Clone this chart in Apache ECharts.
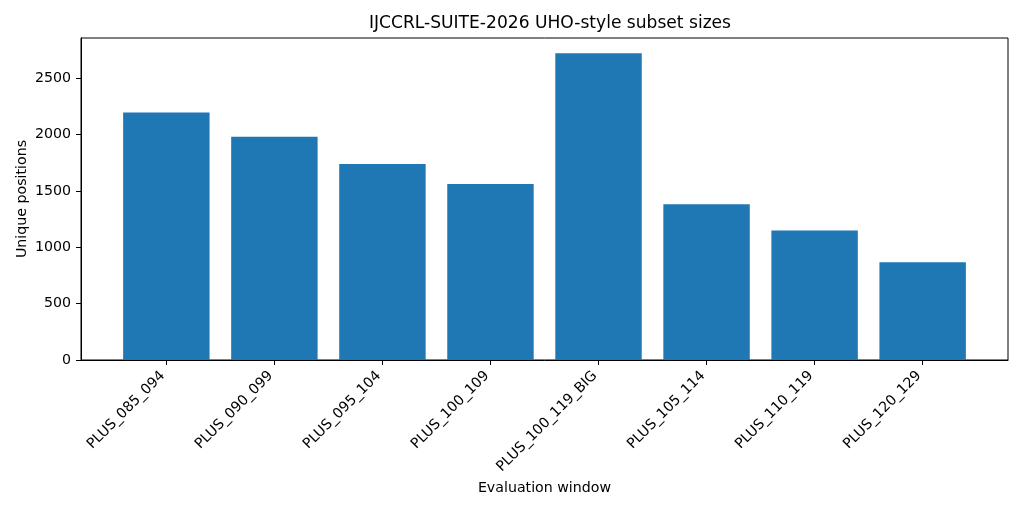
<!DOCTYPE html>
<html><head><meta charset="utf-8">
<script src="https://cdn.jsdelivr.net/npm/echarts@6/dist/echarts.min.js"></script>
<style>html,body{margin:0;padding:0;background:#fff}#c{width:1024px;height:512px}</style>
</head><body><div id="c"></div>
<script>
const categories = ['PLUS_085_094','PLUS_090_099','PLUS_095_104','PLUS_100_109','PLUS_100_119_BIG','PLUS_105_114','PLUS_110_119','PLUS_120_129'];
const values = [2195, 1981, 1738, 1561, 2721, 1383, 1150, 868];
const yTicks = [0, 500, 1000, 1500, 2000, 2500];
const titleText = 'IJCCRL-SUITE-2026 UHO-style subset sizes';
const xName = 'Evaluation window';
const yName = 'Unique positions';

const idx = categories.map((c, i) => i);
const font = 'DejaVu Sans';
const chart = echarts.init(document.getElementById('c'), null, {renderer: 'canvas'});
chart.setOption({
  animation: false,
  backgroundColor: '#fff',
  title: {text: titleText, left: 545, top: 10, textAlign: 'center',
    textStyle: {fontFamily: font, fontSize: 17.1, fontWeight: 'normal', color: '#000'}},
  grid: {left: 81, right: 16, top: 38, bottom: 152, show: true, borderColor: '#000', borderWidth: 1, backgroundColor: 'transparent'},
  xAxis: {
    type: 'value', min: -0.79, max: 7.79,
    name: xName, nameLocation: 'middle', nameGap: 121, nameMoveOverlap: false,
    nameTextStyle: {fontFamily: font, fontSize: 14.2, color: '#000'},
    axisLine: {show: true, onZero: false, lineStyle: {color: '#000', width: 1}},
    axisTick: {show: true, length: 5, lineStyle: {color: '#000'}, customValues: idx},
    axisLabel: {customValues: idx, rotate: 45, fontFamily: font, fontSize: 14.2, color: '#000', margin: 10,
      padding: [0, 5, 0, 0],
      formatter: v => categories[Math.round(v)]},
    splitLine: {show: false}
  },
  yAxis: {
    type: 'value', min: 0, max: 2857,
    name: yName, nameLocation: 'middle', nameGap: 52, nameMoveOverlap: false,
    nameTextStyle: {fontFamily: font, fontSize: 14.2, color: '#000'},
    axisLine: {show: true, onZero: false, lineStyle: {color: '#000', width: 1}},
    axisTick: {show: true, length: 5, lineStyle: {color: '#000'}, customValues: yTicks},
    axisLabel: {customValues: yTicks, fontFamily: font, fontSize: 14.2, color: '#000', margin: 10,
      formatter: v => String(v)},
    splitLine: {show: false}
  },
  series: [{
    type: 'bar',
    data: values.map((v, i) => [i, v]),
    barWidth: '80%',
    itemStyle: {color: '#1f77b4'}
  }]
});
</script></body></html>
